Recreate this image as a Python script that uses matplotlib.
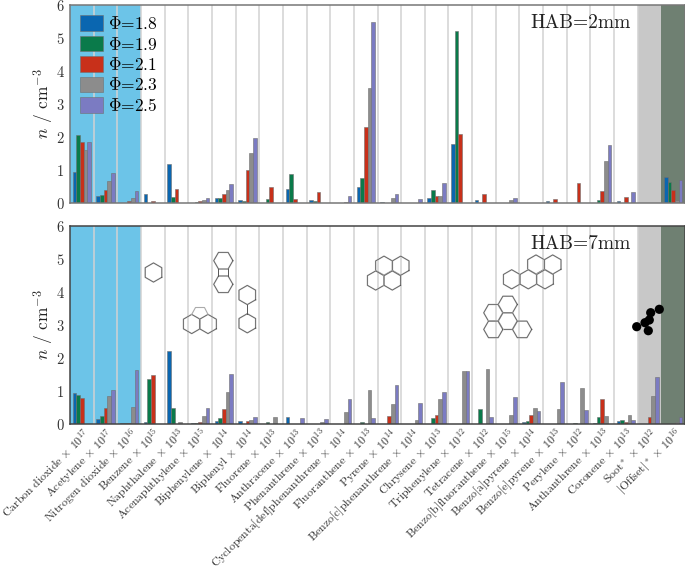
import numpy as np
import matplotlib
matplotlib.use('Agg')
import matplotlib.pyplot as plt
from matplotlib.patches import Circle

plt.rcParams['font.family'] = ['cmr10', 'DejaVu Serif']
plt.rcParams['mathtext.fontset'] = 'cm'
plt.rcParams['axes.unicode_minus'] = False
plt.rcParams['axes.formatter.use_mathtext'] = True

species = ['Carbon dioxide', 'Acetylene', 'Nitrogen dioxide', 'Benzene', 'Naphthalene',
           'Acenaphthylene', 'Biphenylene', 'Biphenyl', 'Fluorene', 'Anthracene',
           'Phenanthrene', 'Cyclopenta[def]phenanthrene', 'Fluoranthene', 'Pyrene',
           'Benzo[c]phenanthrene', 'Chrysene', 'Triphenylene', 'Tetracene',
           'Benzo[b]fluoranthene', 'Benzo[a]pyrene', 'Benzo[e]pyrene', 'Perylene',
           'Anthanthrene', 'Coronene', 'Soot$^*$', '$|$Offset$|^*$']
exponents = [17, 17, 16, 15, 13, 15, 14, 14, 13, 13, 13, 14, 13, 14, 14, 13, 12, 12,
             15, 14, 13, 12, 13, 13, 12, 16]
phi_labels = ['1.8', '1.9', '2.1', '2.3', '2.5']
colors = ['#0a66b0', '#0a7a4a', '#c8301a', '#8c8c8c', '#7b7bc2']

# one row per species, one column per phi
hab2 = [[.95, 2.05, 1.85, 1.6, 1.85], [.22, .24, .38, .67, .9], [0, 0, .07, .15, .37],
        [.28, 0, .07, 0, 0], [1.17, .17, .42, 0, 0], [.01, .03, .05, .08, .14],
        [.14, .14, .26, .39, .57], [.08, .05, 1.0, 1.52, 1.97], [0, .11, .48, 0, 0],
        [.41, .88, .12, 0, 0], [.08, .07, .33, 0, 0], [0, 0, .01, .04, .22],
        [.48, .75, 2.3, 3.48, 5.5], [.04, 0, .01, .16, .27], [0, 0, 0, 0, .12],
        [.14, .4, .21, .2, .6], [1.8, 5.2, 2.08, 0, 0], [.1, .01, .26, 0, 0],
        [0, 0, 0, .1, .14], [.01, .01, .01, 0, 0], [.05, .01, .12, 0, 0], [0, 0, .6, 0, 0],
        [.01, .09, .35, 1.27, 1.75], [.05, 0, .18, 0, .32], [0, 0, 0, 0, 0],
        [.8, .63, .38, .1, .71]]
hab7 = [[.93, .88, .78, 0, 0], [.16, .23, .5, .85, 1.02], [.03, .04, .03, .53, 1.65],
        [.07, 1.36, 1.47, 0, 0], [2.2, .49, 0, .05, 0], [.02, .03, .07, .24, .48],
        [.08, .17, .44, .97, 1.53], [.09, 0, .09, .11, .21], [0, .05, 0, .2, .01],
        [.2, 0, 0, 0, .18], [0, 0, 0, .05, .15], [0, 0, 0, .36, .75],
        [0, .05, 0, 1.03, .17], [.01, 0, .24, .6, 1.17], [0, 0, 0, .13, .64],
        [0, .19, .26, .76, .98], [0, 0, 0, 1.6, 1.62], [0, .44, 0, 1.67, .21],
        [0, .01, 0, .27, .83], [.06, .09, .28, .49, .4], [0, 0, 0, .45, 1.27],
        [0, .04, 0, 1.08, .42], [.03, .21, .76, .24, 0], [.09, .12, .05, .27, .13],
        [0, 0, .2, .85, 1.42], [.01, 0, 0, .07, .2]]

W, H = 685, 571
fig = plt.figure(figsize=(W / 100, H / 100), dpi=100)
ax1 = fig.add_axes([70 / W, 1 - 203 / H, 1 - 70 / W, 198 / H])
ax2 = fig.add_axes([70 / W, 1 - 424 / H, 1 - 70 / W, 198 / H])

x = np.arange(len(species))
bw = 0.155
for ax, vals, tag, sc in [(ax1, hab2, 'HAB=2mm', '#777777'), (ax2, hab7, 'HAB=7mm', '#444444')]:
    vals = np.array(vals)
    ax.axvspan(-0.5, 2.5, color='#6cc4e8', lw=0, zorder=0)
    ax.axvspan(23.5, 24.5, color='#c8c8c8', lw=0, zorder=0)
    ax.axvspan(24.5, 25.5, color='#6f8072', lw=0, zorder=0)
    for edge in x[:-2] + 0.5:
        ax.axvline(edge, color='#d2d2d2', lw=1.1, zorder=1)
    for i in range(5):
        ax.bar(x + (i - 2) * bw, vals[:, i], bw, color=colors[i], edgecolor='#707070',
               lw=0.4, zorder=2, label=r'$\Phi$=' + phi_labels[i])
    ax.set_xlim(-0.5, 25.5)
    ax.set_ylim(0, 6)
    ax.set_ylabel(r'$n$ / cm$^{-3}$', fontsize=12.5, labelpad=0, color='#222222')
    ax.tick_params(length=0, labelsize=10.5, labelcolor='#333333')
    ax.tick_params(axis='y', pad=4)
    ax.tick_params(axis='x', pad=1)
    for s in ax.spines.values():
        s.set_color(sc)
        s.set_linewidth(1.1)
    ax.text(0.911, 0.908, tag, transform=ax.transAxes, ha='right', va='center',
            fontsize=14, color='#222222')

ax1.set_xticks(x)
ax1.set_xticklabels([])
ax2.set_xticks(x)
ax2.set_xticklabels([f'{s} $\\times$ $10^{{{e}}}$' for s, e in zip(species, exponents)],
                    rotation=45, ha='right', rotation_mode='anchor', fontsize=8.5)
ax1.legend(loc='upper left', bbox_to_anchor=(0.0, 1.0), frameon=False, fontsize=12.5,
           handlelength=1.33, handleheight=1.0, labelspacing=0.2, handletextpad=0.3,
           borderpad=0.3, borderaxespad=0.28)

# molecule sketches, drawn in figure pixels
over = fig.add_axes([0, 0, 1, 1], zorder=5)
over.set_xlim(0, W)
over.set_ylim(H, 0)
over.axis('off')
R = 9.6
LC = '#555555'


def hexagon(cx, cy, flat=False):
    a = np.radians(np.arange(0, 361, 60) + (0 if flat else 30))
    over.plot(cx + R * np.cos(a), cy + R * np.sin(a), color='#c4c4c4', lw=1.1)
    over.plot(cx + R * np.cos(a), cy + R * np.sin(a), color=LC, lw=0.5)


def rings(centres, flat=False):
    for c in centres:
        hexagon(c[0], c[1], flat)


rings([(153.5, 272.5)])
rings([(223.3, 260.7), (223.3, 284.3)], flat=True)
over.plot([218.5, 218.5], [269, 276], color=LC, lw=0.7)
over.plot([228, 228], [269, 276], color=LC, lw=0.7)
rings([(247.3, 295), (247.3, 323.3)])
over.plot([247.3, 247.3], [304.6, 313.7], color=LC, lw=0.7)
rings([(191.7, 324), (208, 324)])
over.plot([191.7, 195.5, 204.5, 208], [314.4, 307.5, 307.5, 314.4], color='#aaaaaa', lw=0.8)
rings([(384, 265.7), (400.7, 265.7), (375.7, 280.5), (392.3, 280.5)])
rings([(536, 264.5), (552.7, 264.5), (511.7, 279.3), (528.3, 279.3), (545, 279.3)])
rings([(507.7, 304.5), (493.3, 312.8), (507.7, 321.1), (493.3, 329.4), (522.1, 329.4)], flat=True)

for cx, cy in [(636.7, 326.7), (648.3, 330.7), (645, 322.7), (649.3, 320), (650.7, 312.7), (659.3, 309.3)]:
    over.add_patch(Circle((cx, cy), 4.6, color='black', lw=0))

fig.savefig('out.png', dpi=100)
